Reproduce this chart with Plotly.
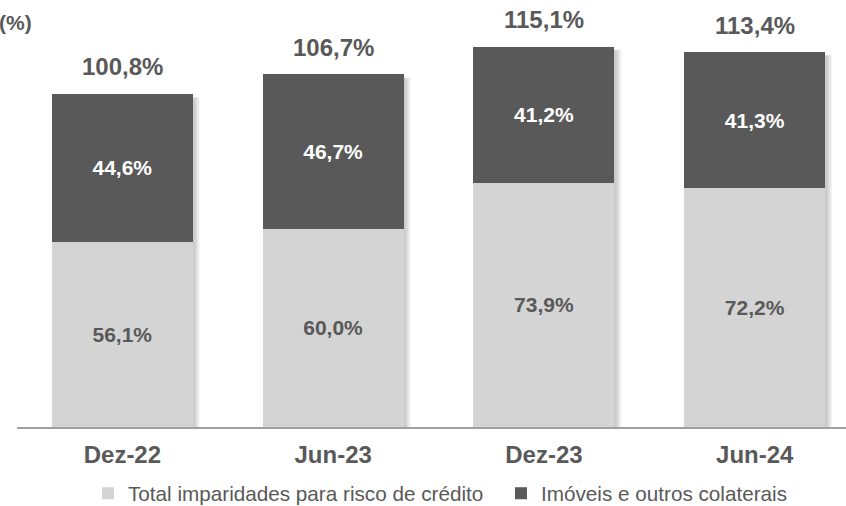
import plotly.graph_objects as go

categories = ["Dez-22", "Jun-23", "Dez-23", "Jun-24"]
imparidades = [56.1, 60.0, 73.9, 72.2]
colaterais = [44.6, 46.7, 41.2, 41.3]
totais = [100.8, 106.7, 115.1, 113.4]
series_names = ["Total imparidades para risco de crédito", "Imóveis e outros colaterais"]
unit_label = "(%)"


def pt(v):
    return f"{v:.1f}".replace(".", ",") + "%"


FONT = "Liberation Sans, Arial, sans-serif"
DARK = "#595959"
LIGHT = "#D4D4D4"
TEXT = "#595959"

W, H = 846, 506
ML, MR, MT, MB = 17, 0, 10, 79
XR = [-0.5, 3.433]
YR = [0, 126.2]
BARW = 0.669
pxx = (W - ML - MR) / (XR[1] - XR[0])
pxy = (H - MT - MB) / (YR[1] - YR[0])

fig = go.Figure()
fig.add_trace(go.Bar(
    x=categories, y=imparidades, name=series_names[0],
    marker=dict(color=LIGHT, line=dict(width=0)),
    width=BARW,
    text=[pt(v) for v in imparidades], textposition="inside",
    insidetextanchor="middle",
    textfont=dict(family=FONT, size=21, color=TEXT, weight="bold"),
    hoverinfo="skip",
))
fig.add_trace(go.Bar(
    x=categories, y=colaterais, name=series_names[1],
    marker=dict(color=DARK, line=dict(width=0)),
    width=BARW,
    text=[pt(v) for v in colaterais], textposition="inside",
    insidetextanchor="middle",
    textfont=dict(family=FONT, size=21, color="#FFFFFF", weight="bold"),
    hoverinfo="skip",
))

# soft drop shadows behind bars
shapes = []
for i, (a, b) in enumerate(zip(imparidades, colaterais)):
    top = a + b
    for j in range(6):
        dx = (2 + j * 1.0) / pxx
        dy = (4 - j * 0.3) / pxy
        shapes.append(dict(
            type="rect", xref="x", yref="y", layer="below",
            x0=i - BARW / 2 + dx, x1=i + BARW / 2 + dx,
            y0=0, y1=top - dy,
            fillcolor="rgba(0,0,0,0.035)", line=dict(width=0),
        ))

annotations = []
for c, t in zip(categories, totais):
    annotations.append(dict(
        x=c, y=t, xref="x", yref="y", text=pt(t), showarrow=False,
        yanchor="middle", yshift=27,
        font=dict(family=FONT, size=24, color=TEXT, weight="bold"),
    ))
annotations.append(dict(
    x=0, y=1, xref="paper", yref="paper", text=unit_label, showarrow=False,
    xanchor="left", yanchor="middle", xshift=-ML - 3, yshift=-12,
    font=dict(family=FONT, size=21, color=TEXT, weight="bold"),
))

fig.update_layout(
    width=W, height=H,
    margin=dict(l=ML, r=MR, t=MT, b=MB, autoexpand=False),
    barmode="stack",
    bargap=0.33,
    paper_bgcolor="white", plot_bgcolor="white",
    shapes=shapes,
    annotations=annotations,
    showlegend=True,
    legend=dict(
        orientation="h", x=0.0856, xanchor="left", y=-0.159, yanchor="middle",
        font=dict(family=FONT, size=20.7, color=TEXT),
        entrywidth=368, entrywidthmode="pixels",
        traceorder="normal", itemclick=False, itemdoubleclick=False,
    ),
    xaxis=dict(
        range=XR, showgrid=False, zeroline=False,
        showline=True, linecolor="#A0A0A0", linewidth=2,
        ticks="", ticklabelstandoff=5,
        tickfont=dict(family=FONT, size=24, color=TEXT, weight="bold"),
        fixedrange=True,
    ),
    yaxis=dict(
        range=YR, visible=False, showgrid=False, zeroline=False, fixedrange=True,
    ),
)

fig.write_html(
    "out.html",
    config={"displayModeBar": False},
    post_script="document.body.style.margin='0';document.body.style.padding='0';",
)
